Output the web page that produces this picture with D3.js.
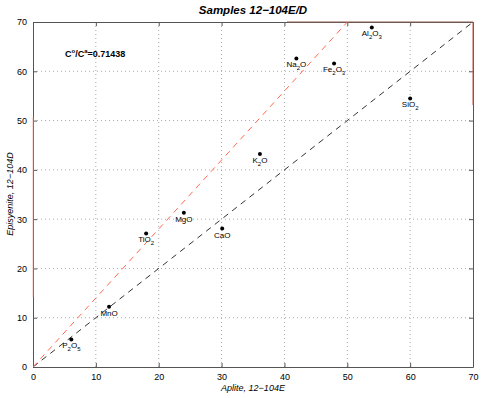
<!DOCTYPE html>
<html>
<head>
<meta charset="utf-8">
<script src="https://cdn.jsdelivr.net/npm/d3@7"></script>
<style>
  body { margin: 0; background: #fff; }
  text { font-family: "Liberation Sans", Arial, sans-serif; fill: #000; }
</style>
</head>
<body>
<svg id="chart" width="481" height="398"></svg>
<script>
// oxides (TeX-like names, _ = subscript)
var oxides = ["P_2O_5", "MnO", "TiO_2", "MgO", "CaO", "K_2O", "Na_2O", "Fe_2O_3", "Al_2O_3", "SiO_2"];
// aplite (12-104E) and episyenite (12-104D) values
var aplite =     [6.1, 12.1, 18.0, 24.0, 30.1, 36.1, 41.9, 47.9, 53.9, 60.0];
var episyenite = [5.6, 12.2, 27.1, 31.3, 28.1, 43.2, 62.6, 61.6, 68.9, 54.5];
var ratio = 0.71438;
var ticks = [0, 10, 20, 30, 40, 50, 60, 70];

var svg = d3.select("#chart");
var margin = {left: 33, right: 8, top: 22, bottom: 31};
var width = +svg.attr("width") - margin.left - margin.right;
var height = +svg.attr("height") - margin.top - margin.bottom;

var x = d3.scaleLinear().domain([0, 70]).range([margin.left, margin.left + width]);
var y = d3.scaleLinear().domain([0, 70]).range([margin.top + height, margin.top]);

// grid
var grid = svg.append("g").attr("class", "grid");
grid.selectAll(".gx").data(ticks.slice(1, -1)).enter().append("line")
  .attr("x1", function(d) { return x(d); }).attr("x2", function(d) { return x(d); })
  .attr("y1", y(0)).attr("y2", y(70))
  .attr("stroke", "#aaa").attr("stroke-width", 1).attr("stroke-dasharray", "1,3");
grid.selectAll(".gy").data(ticks.slice(1, -1)).enter().append("line")
  .attr("y1", function(d) { return y(d); }).attr("y2", function(d) { return y(d); })
  .attr("x1", x(0)).attr("x2", x(70))
  .attr("stroke", "#aaa").attr("stroke-width", 1).attr("stroke-dasharray", "1,3");

// axes (ticks inward, box all round)
var fmt = d3.format("d");
svg.append("g").attr("transform", "translate(0," + y(0) + ")")
  .call(d3.axisBottom(x).tickValues(ticks).tickSizeInner(-4).tickSizeOuter(0).tickPadding(7).tickFormat(fmt));
svg.append("g").attr("transform", "translate(" + x(0) + ",0)")
  .call(d3.axisLeft(y).tickValues(ticks).tickSizeInner(-4).tickSizeOuter(0).tickPadding(6).tickFormat(fmt));
svg.append("g").attr("transform", "translate(0," + y(70) + ")")
  .call(d3.axisTop(x).tickValues(ticks).tickSizeInner(-4).tickSizeOuter(0).tickFormat(""));
svg.append("g").attr("transform", "translate(" + x(70) + ",0)")
  .call(d3.axisRight(y).tickValues(ticks).tickSizeInner(-4).tickSizeOuter(0).tickFormat(""));
svg.selectAll(".domain").attr("stroke", "#555");
svg.selectAll(".tick line").attr("stroke", "#555");
svg.selectAll(".tick text").attr("font-size", 9).attr("fill", "#222")
  .style("font-family", "'Liberation Sans', Arial, sans-serif");

// reddish border artifacts seen in the picture
svg.append("line").attr("x1", x(0)).attr("x2", x(0)).attr("y1", 117).attr("y2", 297)
  .attr("stroke", "#f0a090").attr("stroke-width", 1).attr("opacity", 0.7);
svg.append("line").attr("x1", x(70)).attr("x2", x(70)).attr("y1", y(70)).attr("y2", 105)
  .attr("stroke", "#c05040").attr("stroke-width", 1);
svg.append("line").attr("x1", 287).attr("x2", x(70)).attr("y1", y(70)).attr("y2", y(70))
  .attr("stroke", "#8a5a50").attr("stroke-width", 1);

// 1:1 line and isocon line
var line = d3.line().x(function(d) { return x(d[0]); }).y(function(d) { return y(d[1]); });
svg.append("path").datum([[0, 0], [70, 70]]).attr("d", line)
  .attr("fill", "none").attr("stroke", "#333").attr("stroke-width", 1).attr("stroke-dasharray", "6,5");
svg.append("path").datum([[0, 0], [70 * ratio, 70]]).attr("d", line)
  .attr("fill", "none").attr("stroke", "#ff6a50").attr("stroke-width", 1).attr("stroke-dasharray", "6,5");

// points
var pts = oxides.map(function(n, i) { return {name: n, x: aplite[i], y: episyenite[i]}; });
svg.selectAll(".dot").data(pts).enter().append("circle")
  .attr("cx", function(d) { return x(d.x); })
  .attr("cy", function(d) { return y(d.y); })
  .attr("r", 2).attr("fill", "#000");

// labels with subscripts
function addLabel(sel, name) {
  var parts = name.split(/(_\d)/).filter(function(s) { return s.length; });
  parts.forEach(function(p) {
    if (p[0] === "_") {
      sel.append("tspan").attr("font-size", 6).attr("dy", 3).text(p[1]);
    } else {
      var t = sel.append("tspan").text(p);
      if (sel.selectAll("tspan").size() > 1) t.attr("dy", -3);
    }
  });
}
svg.selectAll(".lbl").data(pts).enter().append("text")
  .attr("class", "lbl")
  .attr("x", function(d) { return x(d.x); })
  .attr("y", function(d) { return y(d.y) + 9; })
  .attr("text-anchor", "middle").attr("font-size", 8)
  .each(function(d) { addLabel(d3.select(this), d.name); });

// ratio annotation
var ann = svg.append("text").attr("x", 65).attr("y", 57).attr("font-size", 9).attr("font-weight", "bold");
ann.append("tspan").text("C");
ann.append("tspan").attr("font-size", 6).attr("dy", -4).text("o");
ann.append("tspan").attr("dy", 4).text("/C");
ann.append("tspan").attr("font-size", 6).attr("dy", -4).text("a");
ann.append("tspan").attr("dy", 4).text("=" + ratio);

// title and axis labels
svg.append("text").attr("x", 253).attr("y", 14).attr("text-anchor", "middle")
  .attr("font-size", 11.5).attr("font-weight", "bold").attr("font-style", "italic")
  .text("Samples 12\u2212104E/D");
svg.append("text").attr("x", 253).attr("y", 391).attr("text-anchor", "middle")
  .attr("font-size", 9).attr("font-style", "italic")
  .text("Aplite, 12\u2212104E");
svg.append("text").attr("transform", "translate(13,194) rotate(-90)").attr("text-anchor", "middle")
  .attr("font-size", 9).attr("font-style", "italic")
  .text("Episyenite, 12\u2212104D");
</script>
</body>
</html>
